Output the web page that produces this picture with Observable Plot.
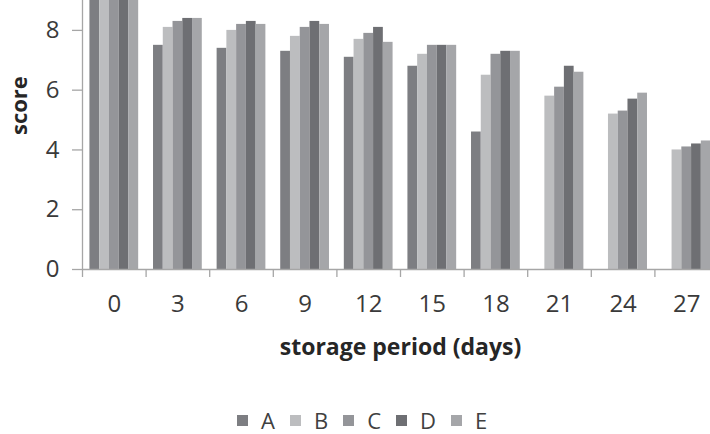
<!DOCTYPE html>
<html><head><meta charset="utf-8">
<script src="https://cdn.jsdelivr.net/npm/d3@7"></script>
<script src="https://cdn.jsdelivr.net/npm/@observablehq/plot@0.6"></script>
<style>
body{margin:0;background:#fff;font-family:"Open Sans",sans-serif;}
#chart svg{display:block;}
.legend{display:flex;justify-content:flex-start;align-items:center;margin-top:28px;padding-left:237px;font-size:22px;color:#404040;line-height:24px;}
.legend .item{display:flex;align-items:center;margin-right:15px;}
.legend .sw{width:11px;height:11px;margin-right:13px;display:inline-block;}
</style></head><body><div id="chart"></div><script>
const days = [0, 3, 6, 9, 12, 15, 18, 21, 24, 27];
const seriesNames = ["A", "B", "C", "D", "E"];
const A = [9, 7.5, 7.4, 7.3, 7.1, 6.8, 4.6, null, null, null];
const B = [9, 8.1, 8.0, 7.8, 7.7, 7.2, 6.5, 5.8, 5.2, 4.0];
const C = [9, 8.3, 8.2, 8.1, 7.9, 7.5, 7.2, 6.1, 5.3, 4.1];
const D = [9, 8.4, 8.3, 8.3, 8.1, 7.5, 7.3, 6.8, 5.7, 4.2];
const E = [9, 8.4, 8.2, 8.2, 7.6, 7.5, 7.3, 6.6, 5.9, 4.3];
const yTicks = [0, 2, 4, 6, 8];
const colors = ["#7d7e82", "#bcbdbf", "#949599", "#6e6f73", "#a5a6a9"];

const seriesValues = [A, B, C, D, E];
const step = days[1] - days[0];
const half = step / 2;
const pad = 0.35, barW = (step - 2 * pad) / seriesNames.length;
const rows = [];
seriesValues.forEach((vals, si) => vals.forEach((v, di) => {
  if (v != null) rows.push({
    day: days[di], series: seriesNames[si], value: v,
    x1: days[di] - half + pad + si * barW,
    x2: days[di] - half + pad + (si + 1) * barW
  });
}));
const boundaries = days.map(d => d - half).concat([days[days.length - 1] + half]);

const axisGray = "#a6a6a6";
const plot = Plot.plot({
  width: 710, height: 380,
  marginTop: 0, marginLeft: 82, marginRight: -8, marginBottom: 111,
  style: {fontFamily: "'Open Sans', sans-serif", fontSize: "24px", color: "#3a3a3a", overflow: "hidden", background: "#fff"},
  x: {domain: [days[0] - half, days[days.length - 1] + half], axis: null},
  y: {domain: [0, 9], axis: null},
  color: {domain: seriesNames, range: colors},
  marks: [
    Plot.rect(rows, {x1: "x1", x2: "x2", y1: d => 0, y2: "value", fill: "series"}),
    Plot.ruleY([0], {stroke: axisGray, strokeWidth: 1.3}),
    Plot.ruleX([boundaries[0]], {stroke: axisGray, strokeWidth: 1.3}),
    Plot.axisX(boundaries, {tickSize: 8, tickFormat: () => "", stroke: axisGray, strokeWidth: 1.3, label: null}),
    Plot.axisX(days, {tickSize: 0, tickPadding: 25, fontSize: 24, fill: "#3a3a3a", label: null}),
    Plot.axisY(yTicks, {tickSize: 10, tickPadding: 13, stroke: axisGray, strokeWidth: 1.3, fontSize: 24, fill: "#3a3a3a", label: null}),
    Plot.text(["storage period (days)"], {frameAnchor: "bottom", dy: 85, fontWeight: "bold", fontSize: 23, fill: "#262626"}),
    Plot.text(["score"], {frameAnchor: "left", dx: -63, rotate: -90, fontWeight: "bold", fontSize: 22, fill: "#262626"})
  ]
});
document.getElementById("chart").appendChild(plot);

const legend = document.createElement("div");
legend.className = "legend";
seriesNames.forEach((n, i) => {
  const it = document.createElement("span");
  it.className = "item";
  const sw = document.createElement("span");
  sw.className = "sw";
  sw.style.background = colors[i];
  it.appendChild(sw);
  it.appendChild(document.createTextNode(n));
  legend.appendChild(it);
});
document.getElementById("chart").appendChild(legend);
</script></body></html>
